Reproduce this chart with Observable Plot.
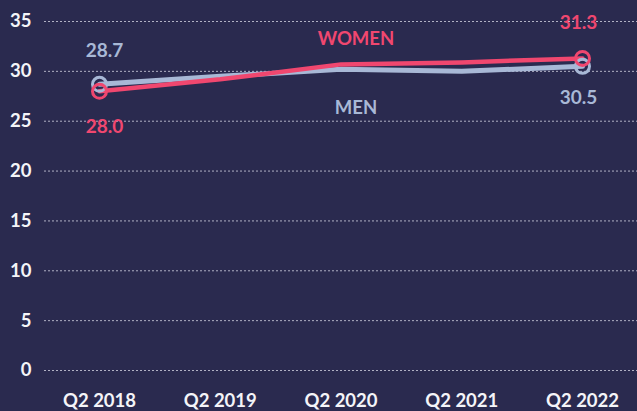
<!DOCTYPE html>
<html><head><meta charset="utf-8">
<script src="https://cdn.jsdelivr.net/npm/d3@7"></script>
<script src="https://cdn.jsdelivr.net/npm/@observablehq/plot@0.6"></script>
<style>html,body{margin:0;padding:0;background:#2a2a4f;overflow:hidden}</style>
</head><body><div id="chart"></div>
<script>
const years = [2018, 2019, 2020, 2021, 2022];
const xLabels = ["Q2 2018", "Q2 2019", "Q2 2020", "Q2 2021", "Q2 2022"];
const women = [28.0, 29.2, 30.7, 30.9, 31.3];
const men = [28.7, 29.5, 30.2, 30.0, 30.5];
const yTicks = [0, 5, 10, 15, 20, 25, 30, 35];

const BG = "#2a2a4f", PINK = "#f0476f", BLUE = "#a8b8d6";
const menRows = years.map((y, i) => ({year: y, value: men[i]}));
const womenRows = years.map((y, i) => ({year: y, value: women[i]}));
const ends = rows => [rows[0], rows[rows.length - 1]];

const chart = Plot.plot({
  width: 637, height: 411,
  marginLeft: 44, marginRight: 0, marginTop: 21, marginBottom: 41,
  style: {background: BG, fontFamily: "Lato", color: "#fff", overflow: "visible"},
  x: {domain: [years[0], years[years.length - 1]], insetLeft: 55, insetRight: 55},
  y: {domain: [0, 35]},
  marks: [
    Plot.gridY(yTicks, {stroke: "#c9c9d8", strokeOpacity: 0.85, strokeDasharray: "2,2", strokeWidth: 1}),
    Plot.axisY({ticks: yTicks, tickSize: 0, tickPadding: 13, fontSize: 18.5, fontWeight: "bold", fill: "#f4f4f8", label: null}),
    Plot.axisX({ticks: years, tickFormat: d => xLabels[years.indexOf(d)], tickSize: 0, tickPadding: 23, fontSize: 18.5, fontWeight: "bold", fill: "#f4f4f8", label: null}),
    Plot.lineY(menRows, {x: "year", y: "value", stroke: BLUE, strokeWidth: 5}),
    Plot.lineY(womenRows, {x: "year", y: "value", stroke: PINK, strokeWidth: 4.5}),
    Plot.dot(ends(menRows), {x: "year", y: "value", r: 7, stroke: BLUE, strokeWidth: 3, fill: "none"}),
    Plot.dot(ends(womenRows), {x: "year", y: "value", r: 7, stroke: PINK, strokeWidth: 3, fill: "none"}),
    Plot.text([menRows[0]], {x: "year", y: "value", text: d => d.value.toFixed(1), dy: -33, dx: 5, fill: BLUE, fontSize: 19, fontWeight: "bold"}),
    Plot.text([menRows[4]], {x: "year", y: "value", text: d => d.value.toFixed(1), dy: 32, dx: -4, fill: BLUE, fontSize: 19, fontWeight: "bold"}),
    Plot.text([womenRows[0]], {x: "year", y: "value", text: d => d.value.toFixed(1), dy: 36, dx: 5, fill: PINK, fontSize: 19, fontWeight: "bold"}),
    Plot.text([womenRows[4]], {x: "year", y: "value", text: d => d.value.toFixed(1), dy: -35, dx: -4, fill: PINK, fontSize: 19, fontWeight: "bold"}),
    Plot.text([womenRows[2]], {x: "year", y: "value", text: () => "WOMEN", dy: -25, dx: 15, fill: PINK, fontSize: 18.5, fontWeight: "bold"}),
    Plot.text([menRows[2]], {x: "year", y: "value", text: () => "MEN", dy: 39, dx: 15, fill: BLUE, fontSize: 18.5, fontWeight: "bold"})
  ]
});
document.getElementById("chart").appendChild(chart);
</script></body></html>
